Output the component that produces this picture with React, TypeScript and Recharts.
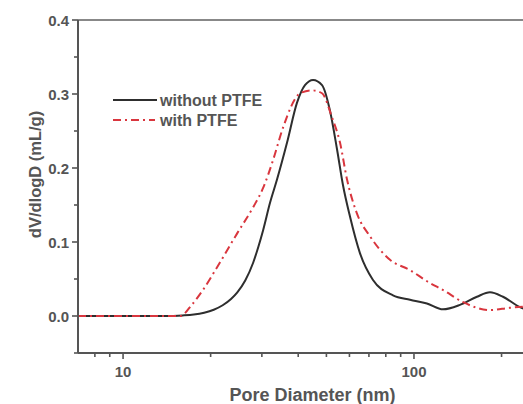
import React from 'react';
import { LineChart, Line, XAxis, YAxis, ReferenceLine, Legend } from 'recharts';

// Pore diameter (nm) and dV/dlogD (mL/g)
const withoutD = [7, 10, 14, 16, 17.5, 19, 20.5, 22, 23.5, 24.7, 26.3, 28.0, 29.2, 30.3, 32.0, 33.8, 36.6, 39.6, 42.2, 45.0, 48.3, 51.4, 54.4, 57.0, 60.2, 65.2, 72.2, 84.7, 96.9, 110.8, 125.8, 143.9, 164.6, 182.5, 202.3, 231.3, 245];
const withoutV = [0, 0, 0, 0.0008, 0.002, 0.0045, 0.0085, 0.0145, 0.023, 0.032, 0.048, 0.072, 0.094, 0.116, 0.153, 0.184, 0.234, 0.288, 0.312, 0.319, 0.312, 0.278, 0.225, 0.177, 0.135, 0.085, 0.049, 0.028, 0.022, 0.017, 0.009, 0.015, 0.026, 0.032, 0.026, 0.012, 0.008];

const withD = [7, 10, 14, 15.7, 17.3, 18.8, 21.5, 24.7, 28.0, 30.3, 32.8, 35.5, 40.6, 44.6, 48.3, 52.2, 55.7, 58.9, 63.6, 70.8, 82.7, 96.9, 113, 126, 147, 182, 213, 245];
const withV = [0, 0, 0, 0, 0.016, 0.035, 0.072, 0.112, 0.147, 0.173, 0.211, 0.255, 0.301, 0.305, 0.301, 0.269, 0.234, 0.184, 0.139, 0.107, 0.076, 0.062, 0.045, 0.035, 0.019, 0.008, 0.011, 0.013];

const seriesNames = ['without PTFE', 'with PTFE'];
const xTicks = [8, 9, 10, 20, 30, 40, 50, 60, 70, 80, 90, 100, 200];
const xMajorTicks = [10, 100];
const yTicks = [-0.05, 0, 0.05, 0.1, 0.15, 0.2, 0.25, 0.3, 0.35, 0.4];
const xTitle = 'Pore Diameter (nm)';
const yTitle = 'dV/dlogD (mL/g)';

const withoutData = withoutD.map((d, i) => ({ d, v: withoutV[i] }));
const withData = withD.map((d, i) => ({ d, v: withV[i] }));

const FONT = '"Liberation Sans", Arial, sans-serif';
const TEXT = '#555';
const AXIS = '#555';
const BLACK = '#2e2e2e';
const RED = '#d9363e';
const DASH = '8 4 2 4';

const XTick = (props: any) => {
  const { x, y, payload } = props;
  const major = xMajorTicks.includes(payload.value);
  return (
    <g>
      <line x1={x} x2={x} y1={y} y2={y + (major ? 6 : 4)} stroke={AXIS} strokeWidth={1.6} />
      {major && (
        <text x={x} y={y + 24} textAnchor="middle" fontSize={15} fontWeight="bold" fill={TEXT} fontFamily={FONT}>
          {payload.value}
        </text>
      )}
    </g>
  );
};

const YTick = (props: any) => {
  const { x, y, payload } = props;
  const v = payload.value;
  const major = Math.abs(v * 10 - Math.round(v * 10)) < 1e-6;
  return (
    <g>
      <line x1={x} x2={x - (major ? 6 : 4)} y1={y} y2={y} stroke={AXIS} strokeWidth={1.6} />
      {major && (
        <text x={x - 9} y={y + 5.5} textAnchor="end" fontSize={15} fontWeight="bold" fill={TEXT} fontFamily={FONT}>
          {v.toFixed(1)}
        </text>
      )}
    </g>
  );
};

const XLabel = (p: any) => {
  const vb = p && p.viewBox ? p.viewBox : { x: 78, y: 353, width: 445, height: 51 };
  return (
    <text x={vb.x + vb.width / 2 + 12} y={vb.y + 48} textAnchor="middle" fontSize={18} fontWeight="bold" fill={TEXT} fontFamily={FONT}>
      {xTitle}
    </text>
  );
};

const YLabel = (p: any) => {
  const vb = p && p.viewBox ? p.viewBox : { x: 0, y: 20, width: 78, height: 333 };
  const cx = 35;
  const cy = vb.y + vb.height / 2 - 12;
  return (
    <text x={cx} y={cy} transform={`rotate(-90, ${cx}, ${cy})`} textAnchor="middle" dominantBaseline="central" fontSize={16.5} fontWeight="bold" fill={TEXT} fontFamily={FONT}>
      {yTitle}
    </text>
  );
};

const LegendContent = () => (
  <svg width={180} height={42} style={{ display: 'block' }}>
    <line x1={3} x2={47} y1={12} y2={12} stroke={BLACK} strokeWidth={2} />
    <text x={50} y={17.5} fontSize={16} fontWeight="bold" fill={TEXT} fontFamily={FONT}>{seriesNames[0]}</text>
    <line x1={3} x2={45} y1={32} y2={32} stroke={RED} strokeWidth={2} strokeDasharray={DASH} />
    <text x={50} y={37.5} fontSize={16} fontWeight="bold" fill={TEXT} fontFamily={FONT}>{seriesNames[1]}</text>
  </svg>
);

export default function App() {
  return (
    <div style={{ position: 'absolute', left: 0, top: 0, width: 523, height: 404, overflow: 'hidden', background: '#fff' }}>
      <LineChart width={523} height={404} margin={{ top: 20, right: 0, bottom: 0, left: 0 }}>
        <XAxis
          type="number"
          dataKey="d"
          scale="log"
          domain={[7, 237]}
          allowDataOverflow
          ticks={xTicks}
          interval={0}
          tickSize={0}
          tickMargin={0}
          tickLine={false}
          tick={<XTick />}
          axisLine={{ stroke: AXIS, strokeWidth: 2 }}
          height={51}
          label={XLabel}
        />
        <YAxis
          type="number"
          dataKey="v"
          domain={[-0.05, 0.4]}
          allowDataOverflow
          ticks={yTicks}
          interval={0}
          tickSize={0}
          tickMargin={0}
          tickLine={false}
          tick={<YTick />}
          axisLine={{ stroke: AXIS, strokeWidth: 2 }}
          width={78}
          label={YLabel}
        />
        <ReferenceLine y={0.4} stroke="#888" strokeWidth={2} />
        <Legend
          layout="vertical"
          align="center"
          verticalAlign="middle"
          content={<LegendContent />}
          wrapperStyle={{ position: 'absolute', left: 110, top: 88, width: 180, height: 42 }}
        />
        <Line
          data={withoutData}
          dataKey="v"
          name={seriesNames[0]}
          type="monotone"
          stroke={BLACK}
          strokeWidth={2}
          dot={false}
          isAnimationActive={false}
        />
        <Line
          data={withData}
          dataKey="v"
          name={seriesNames[1]}
          type="monotone"
          stroke={RED}
          strokeWidth={2}
          strokeDasharray={DASH}
          dot={false}
          isAnimationActive={false}
        />
      </LineChart>
    </div>
  );
}
